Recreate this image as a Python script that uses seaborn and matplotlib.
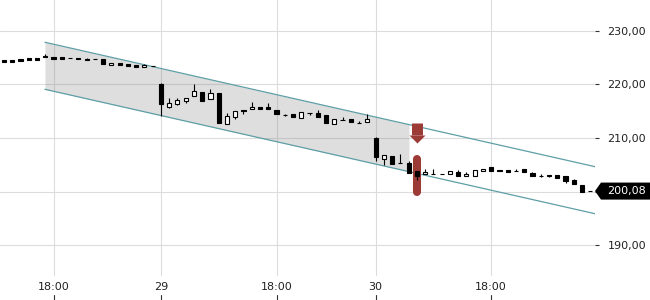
import numpy as np
import pandas as pd
import matplotlib
matplotlib.use("Agg")
import matplotlib.pyplot as plt
import seaborn as sns
from matplotlib.transforms import blended_transform_factory
from matplotlib.patches import Polygon

# ---------------- data ----------------
opens = [224.52, 224.50, 224.75, 224.95, 224.95, 225.35, 225.05, 225.10, 224.95, 225.00,
         224.85, 224.72, 224.71, 223.59, 223.96, 223.77, 223.59, 223.20, 223.48, 220.15,
         215.80, 216.30, 216.97, 217.85, 218.60, 217.23, 218.38, 212.60, 213.87, 215.29,
         215.36, 215.85, 215.74, 215.30, 214.38, 214.43, 213.68, 214.75, 214.73, 214.24,
         212.62, 213.38, 213.50, 212.88, 212.94, 210.00, 206.07, 206.64, 205.40, 205.38,
         203.83, 203.33, 203.35, 203.29, 203.27, 203.70, 202.90, 202.90, 203.78, 204.52,
         203.95, 204.07, 203.80, 204.15, 203.51, 202.97, 203.08, 203.08, 202.82, 202.20,
         201.28, 200.10]
highs = [224.52, 224.50, 224.75, 224.95, 224.95, 225.70, 225.05, 225.10, 224.95, 225.00,
         225.00, 224.72, 224.75, 223.96, 223.96, 223.89, 223.59, 223.78, 223.48, 220.30,
         217.55, 217.40, 217.53, 220.04, 218.60, 219.10, 218.38, 214.60, 214.99, 215.29,
         216.67, 215.85, 216.49, 215.30, 214.55, 214.43, 214.80, 214.75, 215.18, 214.24,
         213.55, 213.98, 213.50, 213.18, 214.43, 210.10, 206.82, 206.64, 206.95, 205.70,
         203.83, 204.20, 204.20, 203.29, 203.78, 203.96, 203.60, 204.07, 204.20, 204.52,
         203.95, 204.07, 204.26, 204.15, 203.64, 203.27, 203.08, 203.08, 202.82, 202.39,
         201.28, 200.10]
lows = [224.20, 224.20, 224.45, 224.60, 224.62, 225.05, 224.80, 224.80, 224.88, 224.72,
        224.60, 224.68, 223.83, 223.59, 223.59, 223.46, 223.33, 223.20, 223.44, 214.15,
        215.60, 216.10, 216.60, 217.85, 216.92, 217.23, 212.75, 212.60, 213.55, 214.43,
        215.36, 215.36, 215.42, 214.40, 214.20, 213.87, 213.68, 214.30, 213.98, 212.75,
        212.62, 213.34, 212.94, 212.84, 212.94, 205.70, 204.95, 205.20, 205.36, 203.51,
        202.15, 203.33, 203.31, 203.25, 203.27, 202.95, 202.90, 202.90, 203.78, 203.83,
        203.83, 203.70, 203.76, 203.59, 202.90, 202.65, 202.65, 202.52, 201.65, 201.38,
        199.97, 200.08]
closes = [224.20, 224.22, 224.45, 224.60, 224.62, 225.05, 224.80, 224.80, 224.88, 224.72,
          224.60, 224.68, 223.83, 223.96, 223.59, 223.46, 223.33, 223.65, 223.44, 216.33,
          216.55, 217.10, 217.53, 218.73, 216.92, 218.36, 212.75, 214.10, 214.99, 214.99,
          215.74, 215.36, 215.42, 214.40, 214.35, 213.87, 214.80, 214.72, 213.98, 212.75,
          213.55, 213.34, 212.94, 212.84, 213.61, 206.50, 206.82, 205.20, 205.36, 203.51,
          202.95, 203.70, 203.31, 203.25, 203.78, 202.95, 203.27, 204.07, 204.20, 203.83,
          203.83, 203.70, 203.76, 203.59, 202.90, 202.93, 202.84, 202.52, 202.05, 201.38,
          199.97, 200.08]

x_tick_pos = [6, 19, 33, 45, 59]
x_tick_labels = ["18:00", "29", "18:00", "30", "18:00"]
y_ticks = [190, 200, 210, 220, 230]

# trend channel (start index, end of shading, upper / lower value at start, slope per bar)
chan_start = 4.96
chan_shade_end = 49.04
chan_upper0 = 227.89
chan_lower0 = 219.10
chan_slope = -0.349

last_price = 200.08
signal_idx = 50
arrow_top, arrow_shaft_end, arrow_head_mid = 212.86, 210.56, 209.78
pill_top, pill_bottom = 206.07, 199.90

# ---------------- style ----------------
sns.set_style("white")
plt.rcParams["font.family"] = ["DejaVu Sans"]

df = pd.DataFrame({"o": opens, "h": highs, "l": lows, "c": closes})
df["i"] = np.arange(len(df))
df["up"] = df["c"] >= df["o"]

fig = plt.figure(figsize=(6.5, 3), dpi=100)
ax = fig.add_axes([0, 24 / 300, 595 / 650, 276 / 300])
ax.set_xlim(-0.484, 71.57)
ax.set_ylim(184.21, 235.79)

for s in ax.spines.values():
    s.set_visible(False)

ax.set_yticks(y_ticks)
ax.set_xticks(x_tick_pos)
ax.set_xticklabels(x_tick_labels)
ax.grid(True, color="#dcdcdc", lw=0.8)
ax.set_axisbelow(True)
ax.yaxis.tick_right()
ax.yaxis.set_major_formatter(matplotlib.ticker.FuncFormatter(lambda v, p: f"{v:.2f}".replace(".", ",")))
ax.tick_params(axis="y", length=3, width=0.8, color="#333333", pad=6, labelsize=8, labelcolor="#222222")
ax.tick_params(axis="x", length=0, pad=4, labelsize=8, labelcolor="#222222")

# x tick marks below the labels
btr = blended_transform_factory(ax.transData, ax.transAxes)
for xp in x_tick_pos:
    ax.plot([xp, xp], [-0.068, -0.09], transform=btr, clip_on=False, color="#333333", lw=0.8)

# channel
xs_shade = np.linspace(chan_start, chan_shade_end, 50)
up_shade = chan_upper0 + chan_slope * (xs_shade - chan_start)
lo_shade = chan_lower0 + chan_slope * (xs_shade - chan_start)
ax.fill_between(xs_shade, lo_shade, up_shade, color="#808080", alpha=0.26, lw=0, zorder=1)
xs_line = np.array([chan_start, 73.0])
chan_df = pd.DataFrame({
    "x": np.concatenate([xs_line, xs_line]),
    "y": np.concatenate([chan_upper0 + chan_slope * (xs_line - chan_start),
                         chan_lower0 + chan_slope * (xs_line - chan_start)]),
    "band": ["upper", "upper", "lower", "lower"],
})
sns.lineplot(data=chan_df, x="x", y="y", units="band", estimator=None, ax=ax,
             color="#5d9fa6", lw=0.9, zorder=2, legend=False)
ax.set_xlabel("")
ax.set_ylabel("")

# signal marks
sig_col = "#9c3a36"
ax.plot([signal_idx, signal_idx], [arrow_top, arrow_shaft_end], color=sig_col, lw=7.9,
        solid_capstyle="butt", zorder=2.5)
ax.plot([signal_idx], [arrow_head_mid], marker=[(-1, 0.5), (1, 0.5), (0, -0.5)], ms=11.5,
        color=sig_col, mec=sig_col, mew=0, zorder=2.5)
ax.plot([signal_idx, signal_idx], [pill_top, pill_bottom], color=sig_col, lw=5.8,
        solid_capstyle="round", zorder=2.5)

# candles
ax.vlines(df["i"], df["l"], df["h"], color="black", lw=0.8, zorder=3)
body_bottom = np.minimum(df["o"], df["c"])
body_h = np.maximum(np.abs(df["c"] - df["o"]), 0.02)
face = ["white" if u else "black" for u in df["up"]]
ax.bar(df["i"], body_h, bottom=body_bottom, width=0.5, color=face, edgecolor="black",
       lw=0.8, zorder=4)

# last price box
ftr = blended_transform_factory(fig.transFigure, ax.transData)
hh = 1.59
poly = Polygon([(595 / 650, last_price), (601 / 650, last_price + hh), (1.0, last_price + hh),
                (1.0, last_price - hh), (601 / 650, last_price - hh)], closed=True,
               transform=ftr, facecolor="black", edgecolor="none", clip_on=False, zorder=10)
fig.patches.append(poly)
fig.text(607 / 650, last_price, f"{last_price:.2f}".replace(".", ","), transform=ftr,
         color="white", fontsize=8, va="center", ha="left", zorder=11)

fig.savefig("out.png", dpi=100)
